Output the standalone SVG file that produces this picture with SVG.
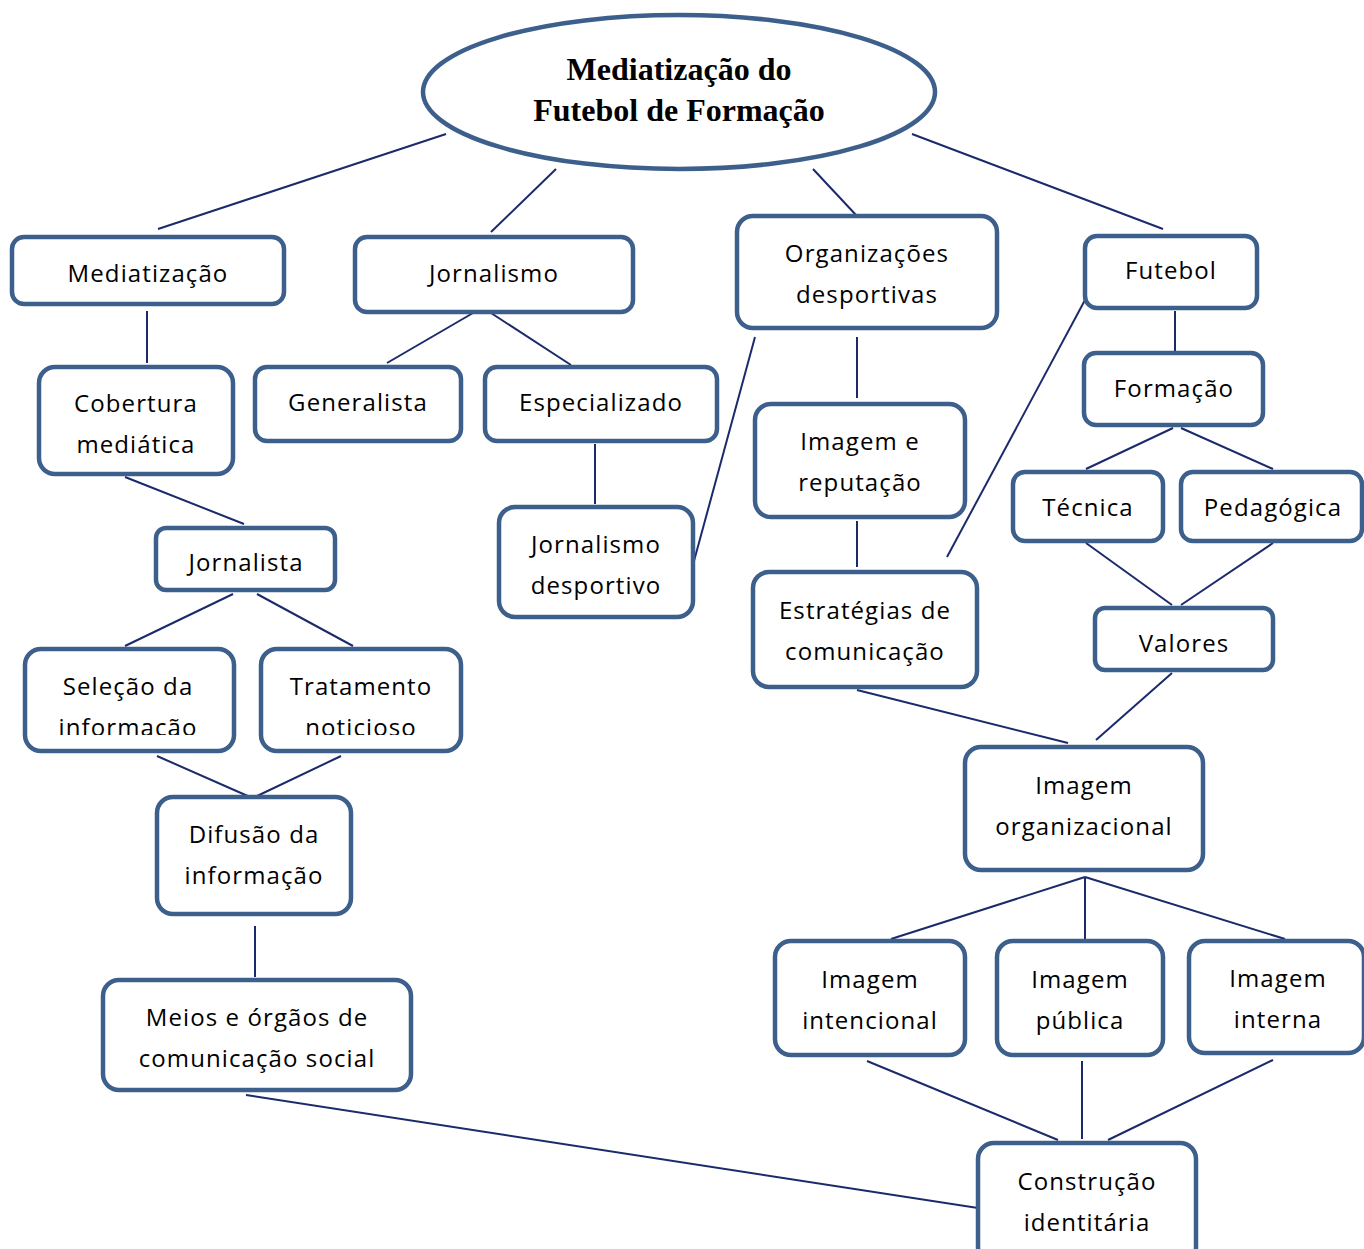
<svg xmlns="http://www.w3.org/2000/svg" width="1364" height="1249" viewBox="0 0 1364 1249">
<style>
.b{fill:#fff;stroke:#3d5f8c;stroke-width:4.5}
.t{font-family:"Open Sans","Noto Sans",sans-serif;font-size:24px;fill:#000;text-anchor:middle;letter-spacing:1.1px}
.h{font-family:"Liberation Serif",serif;font-size:32px;font-weight:bold;fill:#000;text-anchor:middle}
#connectors line{stroke:#1b2a6b;stroke-width:2}
</style>
<defs>
<clipPath id="cl"><rect x="0" y="600" width="500" height="135"/></clipPath>
</defs>
<rect width="1364" height="1249" fill="#fff"/>
<g id="connectors">
<line x1="446" y1="134" x2="158" y2="229"/>
<line x1="556" y1="169" x2="491" y2="232"/>
<line x1="813" y1="169" x2="856" y2="215"/>
<line x1="912" y1="134" x2="1163" y2="229"/>
<line x1="147" y1="311" x2="147" y2="363"/>
<line x1="473" y1="313" x2="387" y2="363"/>
<line x1="491" y1="313" x2="571" y2="365"/>
<line x1="755" y1="337" x2="694" y2="561"/>
<line x1="857" y1="337" x2="857" y2="398"/>
<line x1="1175" y1="311" x2="1175" y2="352"/>
<line x1="1085" y1="300" x2="947" y2="557"/>
<line x1="595" y1="444" x2="595" y2="504"/>
<line x1="125" y1="477" x2="244" y2="524"/>
<line x1="857" y1="521" x2="857" y2="567"/>
<line x1="1173" y1="428" x2="1086" y2="469"/>
<line x1="1181" y1="428" x2="1273" y2="469"/>
<line x1="233" y1="594" x2="125" y2="646"/>
<line x1="257" y1="594" x2="353" y2="646"/>
<line x1="1086" y1="543" x2="1172" y2="605"/>
<line x1="1273" y1="543" x2="1181" y2="605"/>
<line x1="857" y1="690" x2="1068" y2="743"/>
<line x1="1172" y1="673" x2="1096" y2="740"/>
<line x1="157" y1="756" x2="250" y2="797"/>
<line x1="341" y1="756" x2="255" y2="797"/>
<line x1="255" y1="926" x2="255" y2="977"/>
<line x1="1085" y1="877" x2="891" y2="939"/>
<line x1="1085" y1="877" x2="1085" y2="939"/>
<line x1="1085" y1="877" x2="1285" y2="939"/>
<line x1="867" y1="1061" x2="1058" y2="1140"/>
<line x1="1082" y1="1061" x2="1082" y2="1139"/>
<line x1="1273" y1="1060" x2="1108" y2="1140"/>
<line x1="246" y1="1095" x2="978" y2="1208"/>
</g>
<g id="n-title">
<ellipse class="b" cx="679" cy="92" rx="256" ry="77"/>
<text class="h" x="679" y="80">Mediatização do</text>
<text class="h" x="679" y="121">Futebol de Formação</text>
</g>
<g id="n-mediatizacao"><rect class="b" x="12" y="237" width="272" height="67" rx="12"/><text class="t" x="148" y="282">Mediatização</text></g>
<g id="n-jornalismo"><rect class="b" x="355" y="237" width="278" height="75" rx="12"/><text class="t" x="494" y="282">Jornalismo</text></g>
<g id="n-organizacoes"><rect class="b" x="737" y="216" width="260" height="112" rx="16"/><text class="t" x="867" y="262">Organizações</text><text class="t" x="867" y="303">desportivas</text></g>
<g id="n-futebol"><rect class="b" x="1085" y="236" width="172" height="72" rx="12"/><text class="t" x="1171" y="279">Futebol</text></g>
<g id="n-cobertura"><rect class="b" x="39" y="367" width="194" height="107" rx="16"/><text class="t" x="136" y="412">Cobertura</text><text class="t" x="136" y="453">mediática</text></g>
<g id="n-generalista"><rect class="b" x="255" y="367" width="206" height="74" rx="12"/><text class="t" x="358" y="411">Generalista</text></g>
<g id="n-especializado"><rect class="b" x="485" y="367" width="232" height="74" rx="12"/><text class="t" x="601" y="411">Especializado</text></g>
<g id="n-formacao"><rect class="b" x="1084" y="353" width="179" height="72" rx="12"/><text class="t" x="1174" y="397">Formação</text></g>
<g id="n-imagem-reputacao"><rect class="b" x="755" y="404" width="210" height="113" rx="16"/><text class="t" x="860" y="450">Imagem e</text><text class="t" x="860" y="491">reputação</text></g>
<g id="n-tecnica"><rect class="b" x="1013" y="472" width="150" height="69" rx="12"/><text class="t" x="1088" y="516">Técnica</text></g>
<g id="n-pedagogica"><rect class="b" x="1181" y="472" width="181" height="69" rx="12"/><text class="t" x="1273" y="516">Pedagógica</text></g>
<g id="n-jornalista"><rect class="b" x="156" y="528" width="179" height="62" rx="10"/><text class="t" x="246" y="571">Jornalista</text></g>
<g id="n-jorn-desportivo"><rect class="b" x="499" y="507" width="194" height="110" rx="16"/><text class="t" x="596" y="553">Jornalismo</text><text class="t" x="596" y="594">desportivo</text></g>
<g id="n-estrategias"><rect class="b" x="753" y="572" width="224" height="115" rx="16"/><text class="t" x="865" y="619">Estratégias de</text><text class="t" x="865" y="660">comunicação</text></g>
<g id="n-valores"><rect class="b" x="1095" y="608" width="178" height="62" rx="10"/><text class="t" x="1184" y="652">Valores</text></g>
<g id="n-selecao"><rect class="b" x="25" y="649" width="209" height="102" rx="16"/><g clip-path="url(#cl)"><text class="t" x="128" y="695">Seleção da</text><text class="t" x="128" y="736">informação</text></g></g>
<g id="n-tratamento"><rect class="b" x="261" y="649" width="200" height="102" rx="16"/><g clip-path="url(#cl)"><text class="t" x="361" y="695">Tratamento</text><text class="t" x="361" y="736">noticioso</text></g></g>
<g id="n-imagem-org"><rect class="b" x="965" y="747" width="238" height="123" rx="16"/><text class="t" x="1084" y="794">Imagem</text><text class="t" x="1084" y="835">organizacional</text></g>
<g id="n-difusao"><rect class="b" x="157" y="797" width="194" height="117" rx="16"/><text class="t" x="254" y="843">Difusão da</text><text class="t" x="254" y="884">informação</text></g>
<g id="n-intencional"><rect class="b" x="775" y="941" width="190" height="114" rx="16"/><text class="t" x="870" y="988">Imagem</text><text class="t" x="870" y="1029">intencional</text></g>
<g id="n-publica"><rect class="b" x="997" y="941" width="166" height="114" rx="16"/><text class="t" x="1080" y="988">Imagem</text><text class="t" x="1080" y="1029">pública</text></g>
<g id="n-interna"><rect class="b" x="1189" y="941" width="175" height="112" rx="16"/><text class="t" x="1278" y="987">Imagem</text><text class="t" x="1278" y="1028">interna</text></g>
<g id="n-meios"><rect class="b" x="103" y="980" width="308" height="110" rx="16"/><text class="t" x="257" y="1026">Meios e órgãos de</text><text class="t" x="257" y="1067">comunicação social</text></g>
<g id="n-construcao"><rect class="b" x="978" y="1143" width="218" height="120" rx="16"/><text class="t" x="1087" y="1190">Construção</text><text class="t" x="1087" y="1231">identitária</text></g>
</svg>
